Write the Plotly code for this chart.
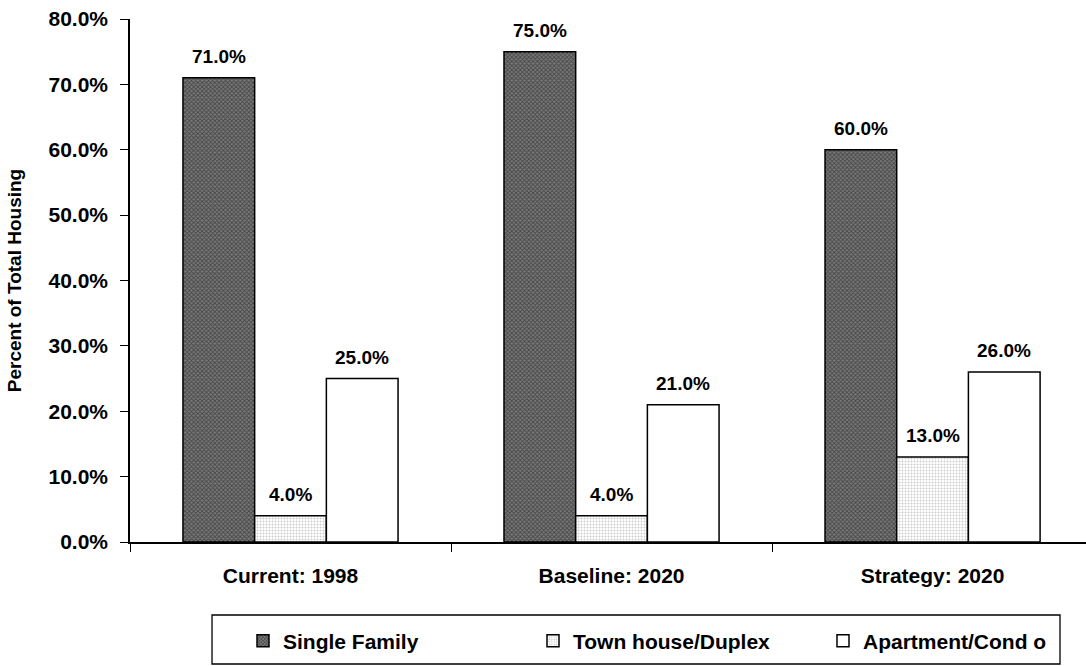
import plotly.graph_objects as go

categories = ["Current: 1998", "Baseline: 2020", "Strategy: 2020"]
single_family = [71.0, 75.0, 60.0]
townhouse_duplex = [4.0, 4.0, 13.0]
apartment_condo = [25.0, 21.0, 26.0]
y_ticks = [0, 10, 20, 30, 40, 50, 60, 70, 80]

FONT = "Liberation Sans, Arial, sans-serif"
BARGAP = 0.33
BAR_W = (1 - BARGAP) / 3  # width of one bar in category units

series = [
    ("Single Family", single_family,
     dict(color="#6e6e6e", line=dict(color="black", width=1.5),
          pattern=dict(shape="x", fgcolor="#111111", bgcolor="#7a7a7a",
                       size=3, solidity=0.5))),
    ("Town house/Duplex", townhouse_duplex,
     dict(color="white", line=dict(color="black", width=1.5),
          pattern=dict(shape=".", fgcolor="#9a9a9a", bgcolor="white",
                       size=3, solidity=0.35))),
    ("Apartment/Cond o", apartment_condo,
     dict(color="white", line=dict(color="black", width=1.5))),
]

fig = go.Figure()
for name, vals, marker in series:
    fig.add_trace(go.Bar(name=name, x=categories, y=vals, marker=marker))

# value labels above each bar
for k, (name, vals, _) in enumerate(series):
    offset = (k - 1) * BAR_W
    for i, v in enumerate(vals):
        fig.add_annotation(
            x=i + offset, y=v, xref="x", yref="y",
            text=f"{v:.1f}%", showarrow=False,
            yanchor="bottom", yshift=9,
            font=dict(family=FONT, size=19, color="black", weight="bold"),
        )

# legend frame
fig.add_shape(type="rect", xref="paper", yref="paper",
              x0=0.0858, x1=0.9728, y0=-0.2333, y1=-0.1396,
              line=dict(color="black", width=1.3), fillcolor="white", layer="below")

fig.update_layout(
    width=1086, height=666,
    margin=dict(l=130, r=0, t=19, b=124, autoexpand=False),
    paper_bgcolor="white", plot_bgcolor="white",
    barmode="group", bargap=BARGAP, bargroupgap=0,
    font=dict(family=FONT, color="black", weight="bold"),
    showlegend=True,
    legend=dict(
        orientation="h", x=0.1182, xanchor="left", y=-0.1893, yanchor="middle",
        borderwidth=0, bgcolor="rgba(0,0,0,0)",
        font=dict(family=FONT, size=21, color="black", weight="bold"),
        entrywidth=245, entrywidthmode="pixels",
        itemwidth=30, traceorder="normal",
    ),
    xaxis=dict(
        range=[-0.5, 2.478],
        showline=True, linecolor="black", linewidth=1.5,
        ticks="outside", tickson="boundaries", ticklen=8, tickcolor="black",
        ticklabelstandoff=14,
        tickfont=dict(family=FONT, size=21, color="black", weight="bold"),
        showgrid=False,
    ),
    yaxis=dict(
        range=[0, 80], tickvals=y_ticks,
        ticktext=[f"{v:.1f}%" for v in y_ticks],
        showline=True, linecolor="black", linewidth=1.5,
        ticks="outside", ticklen=8, tickcolor="black",
        ticklabelstandoff=8,
        tickfont=dict(family=FONT, size=21, color="black", weight="bold"),
        showgrid=False, zeroline=False,
        title=dict(text="Percent of Total Housing", standoff=22,
                   font=dict(family=FONT, size=19, color="black", weight="bold")),
    ),
)

fig.write_html("out.html")
